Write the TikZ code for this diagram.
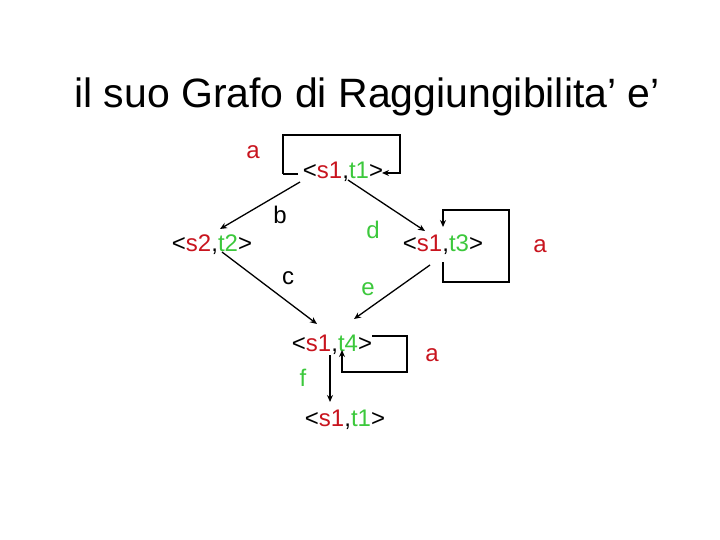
\documentclass[tikz,border=0pt]{standalone}
\usepackage{fontspec}
\setmainfont{Liberation Sans}
\usetikzlibrary{arrows.meta}
\definecolor{rr}{RGB}{200,20,30}
\definecolor{gg}{RGB}{60,200,60}
\begin{document}
\begin{tikzpicture}[x=1pt,y=-1pt,
  lab/.style={font=\fontsize{24}{28}\selectfont,inner sep=1pt},
  st/.style={font=\fontsize{24}{28}\selectfont,inner sep=1pt},
  ed/.style={line width=1.3pt,-{Stealth[length=7pt,width=6pt]}}]
\useasboundingbox (0,0) rectangle (720,540);
\node[font=\fontsize{41}{48}\selectfont] (title) at (367,97) {il suo Grafo di Raggiungibilita’ e’};
\node[st] (n1) at (343,172) {<\textcolor{rr}{s1},\textcolor{gg}{t1}>};
\node[st] (n2) at (212,245) {<\textcolor{rr}{s2},\textcolor{gg}{t2}>};
\node[st] (n3) at (443,245) {<\textcolor{rr}{s1},\textcolor{gg}{t3}>};
\node[st] (n4) at (332,345) {<\textcolor{rr}{s1},\textcolor{gg}{t4}>};
\node[st] (n5) at (345,420) {<\textcolor{rr}{s1},\textcolor{gg}{t1}>};
\node[lab,text=rr] (la1) at (253,152) {a};
\node[lab] (lb) at (280,215) {b};
\node[lab,text=gg] (ld) at (373,230) {d};
\node[lab,text=rr] (la2) at (540,246) {a};
\node[lab] (lc) at (288,278) {c};
\node[lab,text=gg] (le) at (368,289) {e};
\node[lab,text=rr] (la3) at (432,355) {a};
\node[lab,text=gg] (lf) at (303,378) {f};
\coordinate (p1) at (283,174);
\draw[line width=1.3pt] (298,174) -- (p1);
\draw[ed] (p1) -- (283,135) -- (400,135) -- (400,173) -- (382,173);
\draw[ed] (443,262) -- (443,282) -- (509,282) -- (509,210) -- (443,210) -- (443,227);
\draw[ed] (372,336) -- (407,336) -- (407,372) -- (342,372) -- (342,350);
\draw[ed] (300,182) -- (220,229);
\draw[ed] (348,180) -- (425,231);
\draw[ed] (222,252) -- (317,324);
\draw[ed] (430,265) -- (354,319);
\draw[ed] (330,355) -- (330,402);
\end{tikzpicture}
\end{document}
